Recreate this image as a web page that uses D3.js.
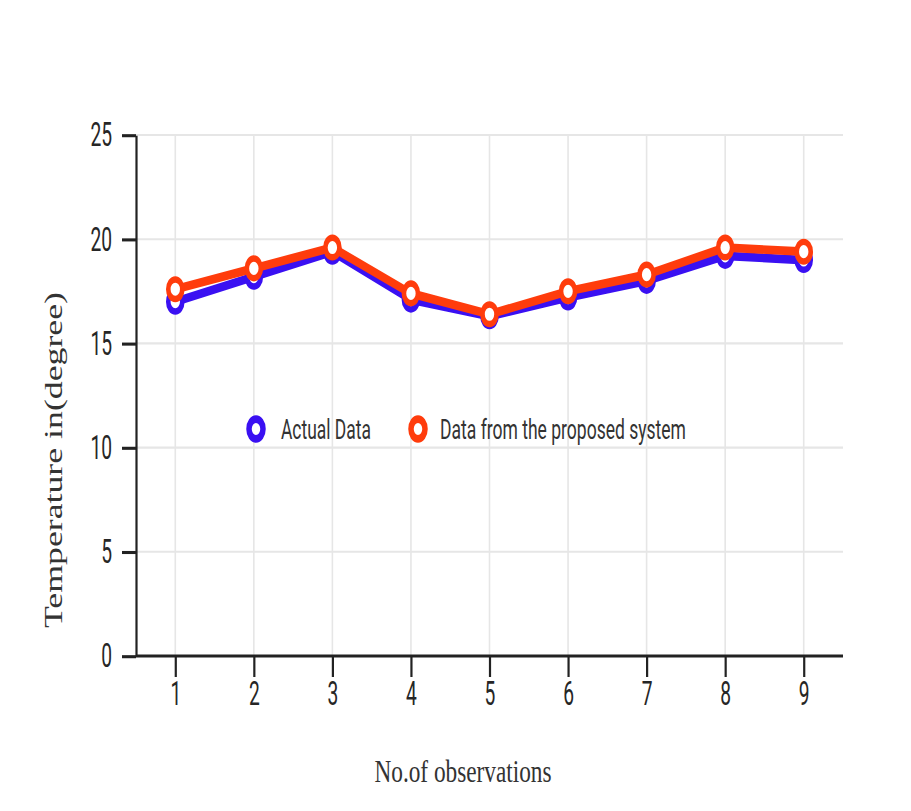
<!DOCTYPE html>
<html>
<head>
<meta charset="utf-8">
<script src="https://cdn.jsdelivr.net/npm/d3@7/dist/d3.min.js"></script>
<style>
	html, body { margin: 0; padding: 0; background: #fff; }
	svg { display: block; }
</style>
</head>
<body>
<svg id="chart"></svg>
<script>
// data
var observations = [1, 2, 3, 4, 5, 6, 7, 8, 9];
var actualData = [17.0, 18.2, 19.4, 17.1, 16.3, 17.2, 18.0, 19.2, 19.0];
var proposedData = [17.6, 18.6, 19.6, 17.4, 16.4, 17.5, 18.3, 19.6, 19.4];
var yTicks = [0, 5, 10, 15, 20, 25];
var seriesNames = ["Actual Data", "Data from the proposed system"];
var seriesColors = ["#3a10f2", "#ff3c0c"];

var width = 911, height = 811;
// the reference is stretched vertically, so draw in a squashed space and stretch it
var S = 1.4;

var svg = d3.select("#chart")
	.attr("width", width)
	.attr("height", height);

var g = svg.append("g").attr("transform", "scale(1," + S + ")");

var plot = {left: 136, right: 843, top: 135 / S, bottom: 656 / S};

var x = d3.scaleLinear()
	.domain([0.5, 9.5])
	.range([plot.left, plot.right]);

var y = d3.scaleLinear()
	.domain([0, 25])
	.range([plot.bottom, plot.top]);

// grid
var grid = g.append("g").attr("class", "grid");
grid.selectAll(".gx")
	.data(observations)
	.enter().append("line")
	.attr("x1", function(d) { return x(d); })
	.attr("x2", function(d) { return x(d); })
	.attr("y1", plot.top)
	.attr("y2", plot.bottom)
	.attr("stroke", "#e6e6e6")
	.attr("stroke-width", 1.6);
grid.selectAll(".gy")
	.data(yTicks.slice(1))
	.enter().append("line")
	.attr("x1", plot.left)
	.attr("x2", plot.right)
	.attr("y1", function(d) { return y(d); })
	.attr("y2", function(d) { return y(d); })
	.attr("stroke", "#e6e6e6")
	.attr("stroke-width", 1.5);

// axes
var yAxis = g.append("g")
	.attr("transform", "translate(" + plot.left + ",0)")
	.call(d3.axisLeft(y).tickValues(yTicks).tickSize(14).tickPadding(10).tickSizeOuter(0));
var xAxis = g.append("g")
	.attr("transform", "translate(0," + plot.bottom + ")")
	.call(d3.axisBottom(x).tickValues(observations).tickSize(15).tickPadding(3).tickSizeOuter(0));

[yAxis, xAxis].forEach(function(axis) {
	axis.select(".domain").attr("stroke", "#222").attr("stroke-width", 2.2);
	axis.selectAll(".tick line").attr("stroke", "#222").attr("stroke-width", 2.2);
	axis.selectAll(".tick text")
		.attr("fill", "#262626")
		.attr("font-family", "Roboto, sans-serif")
		.attr("font-size", 24)
		.attr("lengthAdjust", "spacingAndGlyphs")
		.attr("textLength", function(d) { return String(d).length * 10.8; });
});
// x domain ends at the last tick in the reference
xAxis.select(".domain").attr("d", "M" + plot.left + ",0H" + plot.right);

// series
var line = d3.line()
	.x(function(d, i) { return x(observations[i]); })
	.y(function(d) { return y(d); });

[actualData, proposedData].forEach(function(values, k) {
	var s = g.append("g").attr("class", "series");
	s.append("path")
		.datum(values)
		.attr("fill", "none")
		.attr("stroke", seriesColors[k])
		.attr("stroke-width", 6.2)
		.attr("stroke-linejoin", "round")
		.attr("d", line);
	s.selectAll("circle")
		.data(values)
		.enter().append("circle")
		.attr("cx", function(d, i) { return x(observations[i]); })
		.attr("cy", function(d) { return y(d); })
		.attr("r", 7)
		.attr("fill", "#fff")
		.attr("stroke", seriesColors[k])
		.attr("stroke-width", 4.6);
});

// legend
var legendX = [256, 418];
var legendTextX = [281, 440];
var legendLen = [90, 246];
var legendY = 429 / S;
var legend = g.append("g").attr("class", "legend");
seriesNames.forEach(function(name, k) {
	legend.append("circle")
		.attr("cx", legendX[k])
		.attr("cy", legendY)
		.attr("r", 7)
		.attr("fill", "#fff")
		.attr("stroke", seriesColors[k])
		.attr("stroke-width", 5.5);
	legend.append("text")
		.attr("x", legendTextX[k])
		.attr("y", legendY)
		.attr("dy", "0.36em")
		.attr("fill", "#333")
		.attr("font-family", "Roboto, sans-serif")
		.attr("font-size", 20)
		.attr("lengthAdjust", "spacingAndGlyphs")
		.attr("textLength", legendLen[k])
		.text(name);
});

// axis titles
g.append("text")
	.attr("x", 463)
	.attr("y", 782 / S)
	.attr("text-anchor", "middle")
	.attr("fill", "#333")
	.attr("font-family", "'Liberation Serif', 'Times New Roman', serif")
	.attr("font-size", 23)
	.attr("lengthAdjust", "spacingAndGlyphs")
	.attr("textLength", 177)
	.text("No.of observations");

g.append("text")
	.attr("transform", "translate(62," + (460 / S) + ") rotate(-90)")
	.attr("text-anchor", "middle")
	.attr("fill", "#333")
	.attr("font-family", "'Liberation Serif', 'Times New Roman', serif")
	.attr("font-size", 25)
	.attr("lengthAdjust", "spacingAndGlyphs")
	.attr("textLength", 336 / S)
	.text("Temperature in(degree)");
</script>
</body>
</html>
